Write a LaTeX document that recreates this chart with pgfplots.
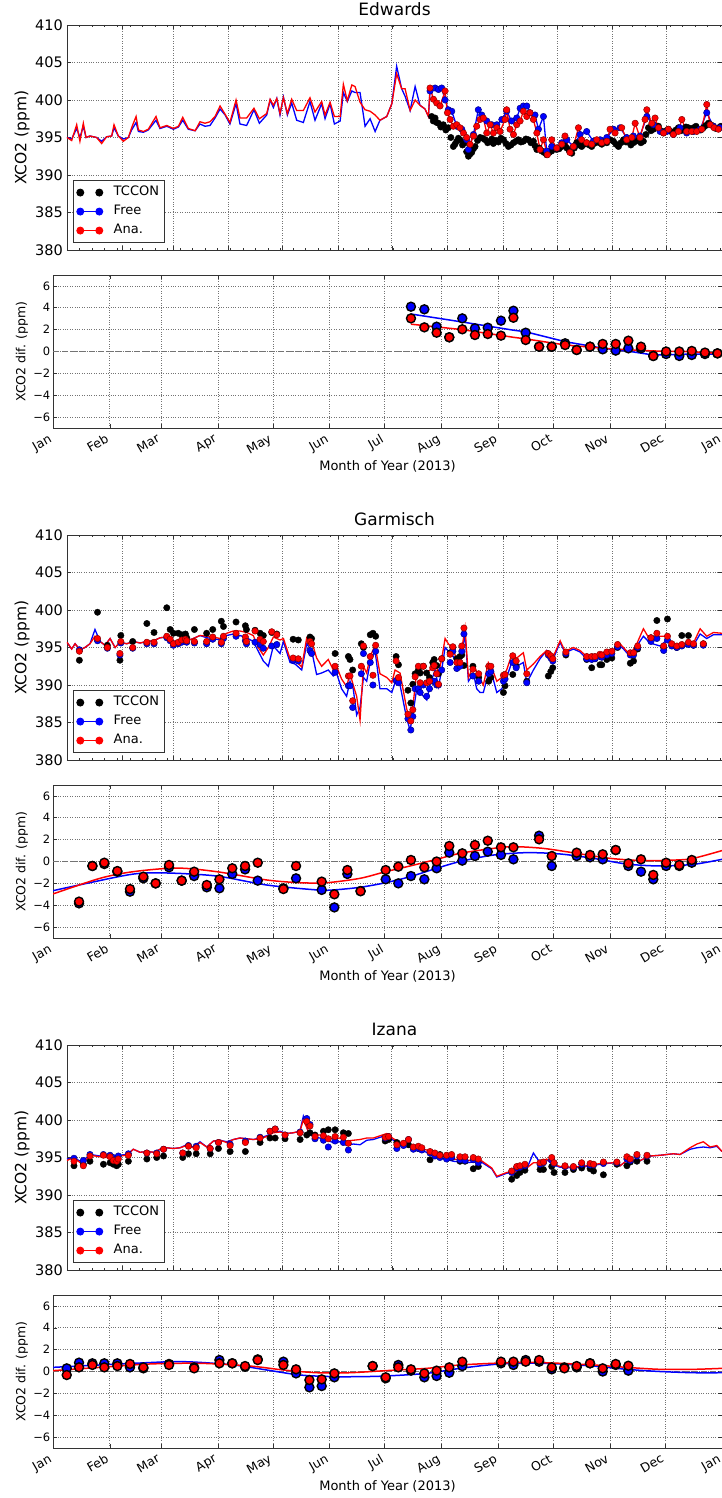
\documentclass[border=0pt]{standalone}
\usepackage{fontspec}
\setmainfont{DejaVu Sans}
\usepackage{pgfplots}
\usepackage{pgfplotstable}
\pgfplotsset{compat=1.18}
\newcommand{\fs}[1]{\fontsize{#1pt}{#1pt}\selectfont}

% ---------------- Edwards ----------------
\pgfplotstableread{
day free ana
0 395.0 395.0
2.6 394.8 394.6
5.4 396.2 396.7
7.2 395.0 394.5
9.1 396.5 396.9
10.6 395.0 395.0
12.8 395.2 395.2
16.5 395.0 395.0
19.3 394.5 394.2
22.1 395.1 395.1
24.9 395.2 395.2
26.2 396.3 396.7
28.6 395.2 395.2
31.4 394.8 394.5
34.2 395.0 395.0
36.0 396.0 396.3
38.5 397.0 397.8
39.8 395.8 396.0
42.6 395.7 395.8
45.3 396.0 396.1
49.6 397.3 397.8
51.8 396.2 396.3
55.6 396.5 396.6
59.3 396.1 396.2
62.1 396.4 396.5
64.5 397.3 397.7
67.6 396.1 396.2
71.4 395.9 395.9
74.1 396.8 397.1
76.9 396.5 396.9
79.7 396.6 397.1
82.5 397.6 397.8
85.3 398.8 399.2
88.1 398.0 398.1
90.8 396.8 397.0
94.2 399.5 400.0
96.4 396.8 397.6
100.1 396.6 397.6
104.2 398.7 398.9
107.2 396.9 397.5
111.3 398.0 398.2
113.2 400.0 400.1
115.0 399.0 399.3
116.9 400.2 400.2
118.7 398.0 398.2
120.6 400.4 400.3
122.8 398.0 398.2
125.2 399.6 400.1
128.0 397.3 398.6
131.7 397.0 398.6
135.4 399.8 400.3
138.2 397.3 398.4
141.9 399.5 399.8
143.8 397.5 398.0
146.6 399.5 399.7
149.0 396.8 397.8
152.2 397.2 397.8
154.0 401.0 402.1
156.2 399.8 399.9
158.7 401.2 402.0
160.5 401.0 401.8
163.3 401.0 399.7
166.1 396.5 398.7
168.9 397.5 398.5
171.7 395.8 398.0
174.4 397.3 397.3
178.2 397.8 397.8
181.0 399.5 399.5
183.7 404.5 403.5
186.5 401.5 401.5
188.4 400.5 401.5
191.2 398.6 398.6
194.0 401.8 400.0
196.7 399.3 399.3
199.5 398.8 398.8
201.4 397.8 397.8
202.3 401.2 401.6
}\Eline

\pgfplotstableread{
day val
203.2 397.8
204.1 397.2
205.1 397.6
206.0 397.0
207.0 396.9
208.3 396.4
209.7 396.7
211.1 396.0
212.5 396.3
213.9 395.0
215.3 393.8
216.2 394.1
217.2 394.5
218.1 394.9
219.0 394.7
220.4 394.0
221.8 394.3
222.7 393.1
223.7 392.5
224.6 392.8
225.5 393.0
226.5 393.5
227.4 393.8
228.8 394.6
230.2 395.0
231.6 394.9
233.0 394.7
234.4 394.3
235.8 394.5
236.7 394.8
237.6 394.2
239.0 394.6
240.4 394.4
241.8 394.9
243.2 394.7
244.6 394.2
246.0 393.8
247.4 394.0
248.8 394.3
250.2 394.5
251.5 394.7
252.9 394.4
254.3 394.5
255.7 394.8
257.1 394.7
258.5 394.3
259.9 394.5
260.8 393.9
261.8 393.4
263.2 393.6
264.5 393.2
265.9 393.0
267.3 392.7
268.7 393.0
270.1 393.2
271.5 393.6
272.9 393.4
274.3 393.5
275.7 393.8
277.1 394.0
278.5 393.6
279.9 393.2
281.3 392.9
282.7 393.6
284.0 394.3
285.4 394.0
286.8 393.8
288.2 394.1
289.6 394.3
291.0 394.0
292.4 393.8
293.8 394.2
295.2 394.5
296.6 394.3
298.0 394.1
299.4 394.4
300.8 394.3
302.6 394.7
304.5 394.5
305.9 394.1
307.3 393.8
308.7 394.3
310.1 394.7
311.5 394.4
312.8 394.5
314.2 394.0
315.6 394.3
317.0 394.5
318.4 394.7
319.8 394.3
321.2 394.5
322.6 395.4
324.0 396.3
325.4 395.9
326.8 396.1
328.2 396.4
329.6 396.5
331.0 395.9
332.4 395.6
333.8 395.9
335.1 396.1
336.5 395.8
337.9 395.6
339.3 396.0
340.7 396.3
342.1 395.9
343.5 396.1
344.9 396.4
346.3 396.3
347.7 396.0
349.1 396.3
350.5 396.5
351.9 396.1
353.2 396.0
354.6 396.3
356.0 396.6
357.4 396.9
358.8 396.7
360.2 396.5
361.6 396.2
363.0 396.3
364.4 396.5
}\Etccon

\pgfplotstableread{
day val
202.3 401.2
205.1 401.6
207.0 401.4
208.8 401.6
210.7 400.0
212.5 398.7
214.4 398.5
217.2 396.5
220.0 396.1
222.7 394.7
223.7 393.4
226.5 395.4
229.2 398.7
231.1 398.0
233.9 397.2
236.7 396.7
239.5 396.7
242.3 397.4
245.0 398.5
247.8 397.2
250.6 397.6
252.5 398.9
254.3 399.2
256.2 399.2
258.0 398.3
260.8 398.0
262.7 396.1
265.5 397.8
267.3 393.2
270.1 393.8
272.9 393.6
275.7 394.3
278.5 394.7
282.2 393.8
285.9 395.4
289.6 395.8
293.3 394.5
297.1 394.7
300.8 395.0
304.5 396.1
308.2 396.3
311.9 395.0
315.6 395.2
319.3 395.2
323.1 397.8
326.8 396.7
330.5 395.8
334.2 395.8
337.9 395.4
341.6 396.3
345.3 395.6
349.1 395.8
352.8 396.1
356.5 398.3
360.2 396.5
363.9 396.3
}\Efree

\pgfplotstableread{
day val
202.3 401.6
204.2 400.1
206.0 399.6
207.9 399.2
210.7 401.2
212.0 398.3
213.5 397.4
215.3 396.5
217.2 396.7
219.0 396.3
220.9 395.6
222.7 395.0
224.6 394.1
226.5 395.2
228.3 396.5
230.2 397.4
232.0 397.6
233.9 395.6
235.8 396.7
237.6 395.6
239.5 396.3
241.3 395.8
244.1 397.4
245.0 398.7
246.9 396.1
248.8 395.4
250.6 396.7
252.5 397.2
254.3 398.5
256.2 397.8
258.0 398.3
259.9 397.4
261.8 395.6
263.6 393.4
265.5 394.7
267.7 392.7
270.1 394.7
272.9 393.6
275.7 394.1
277.5 395.2
280.3 393.0
282.2 393.8
285.0 396.3
286.8 394.7
289.6 394.3
292.4 394.1
295.2 394.7
298.0 394.3
300.8 394.5
302.6 396.1
305.4 395.6
309.1 396.3
311.9 394.7
314.7 395.0
316.6 396.9
319.3 395.0
322.1 397.4
323.1 398.7
325.9 396.9
327.7 397.6
329.6 396.3
332.4 395.6
335.1 396.1
337.9 395.4
340.7 395.8
342.6 397.4
345.3 395.8
348.1 395.8
350.9 395.8
353.7 396.1
356.5 399.4
358.4 396.7
360.6 396.3
363.0 396.1
}\Eana

\pgfplotstableread{
day free ana
195.3 4.10 3.03
202.6 3.86 2.21
209.3 2.27 1.72
216.2 1.30 1.30
223.3 3.03 2.03
230.2 2.12 1.51
237.2 2.18 1.60
244.4 2.82 1.45
251.2 3.73 3.09
257.9 1.72 1.05
265.2 0.44 0.44
272.1 0.44 0.44
279.4 0.75 0.59
285.7 0.14 0.14
293.0 0.44 0.44
299.9 0.20 0.69
307.0 0.08 0.69
313.9 0.29 0.99
320.8 0.29 0.44
327.5 -0.41 -0.41
334.5 -0.23 0.00
341.7 -0.41 0.00
348.5 -0.32 0.05
355.7 -0.23 -0.10
362.5 -0.17 -0.17
}\Ediff

\pgfplotstableread{
day free ana
195.3 3.43 2.50
223.3 2.70 2.00
251.2 1.95 1.30
258.0 1.80 1.15
279.4 0.90 0.60
300.0 0.30 0.30
315.0 0.00 0.15
327.5 -0.32 0.05
345.0 -0.25 0.00
365.0 -0.23 -0.17
}\Efit

% ---------------- Garmisch ----------------
\pgfplotstableread{
day free ana
0 395.7 395.7
2.6 394.8 394.8
4.5 395.5 395.5
7.2 394.7 394.7
10.0 395.0 395.0
12.8 395.5 395.5
15.6 397.4 396.5
18.4 395.8 395.8
21.2 395.3 395.3
24.0 396.2 396.2
26.8 395.0 395.0
29.5 395.7 395.7
33.3 395.5 395.5
37.0 395.8 395.8
40.7 395.6 395.6
44.5 395.8 395.8
48.2 395.9 395.9
51.9 396.3 396.3
55.6 396.4 396.4
59.3 395.8 395.8
63.0 396.0 396.0
66.7 395.9 395.9
70.4 396.2 396.2
74.1 396.6 396.6
77.9 396.3 396.5
81.6 396.2 396.4
85.3 396.0 396.2
89.0 396.6 396.9
92.7 396.8 397.2
96.4 396.6 397.2
100.1 396.3 397.0
103.8 395.8 396.6
106.6 394.5 395.0
109.4 393.2 394.0
112.2 392.5 395.0
115.0 395.2 396.4
118.7 394.2 396.0
120.6 395.8 396.2
124.3 393.0 393.5
127.1 392.8 393.3
130.8 392.0 392.4
133.6 395.5 396.3
136.4 394.5 395.8
139.1 391.4 393.6
141.9 391.6 392.5
145.6 392.0 393.4
148.4 391.2 392.0
150.2 391.6 392.5
153.0 389.5 390.8
155.8 388.5 389.8
157.7 390.5 391.5
159.5 389.5 390.0
161.4 386.0 388.5
163.3 387.0 385.3
165.2 391.0 392.5
167.0 390.5 391.6
168.9 393.0 393.8
171.7 394.5 395.3
174.4 389.5 391.5
178.2 389.5 391.0
181.0 389.0 390.3
182.8 390.3 392.0
185.6 390.0 391.6
189.3 385.5 386.8
191.2 384.0 385.3
193.0 386.5 387.7
194.9 389.5 391.8
196.7 389.0 391.6
200.5 388.0 391.8
202.3 390.0 392.0
205.1 392.0 393.0
207.0 389.8 391.5
208.8 392.0 393.5
210.7 395.0 396.2
212.5 394.5 395.5
214.4 394.2 395.0
217.2 392.8 393.5
219.0 392.5 393.2
221.8 396.8 397.6
223.7 390.5 391.0
226.5 391.5 392.5
228.3 389.5 391.8
230.2 389.0 390.8
232.0 389.0 390.0
234.8 391.5 393.0
236.7 391.5 392.3
239.5 389.0 390.5
242.3 389.5 391.0
245.0 391.0 392.0
247.8 393.0 394.0
250.6 392.5 393.6
254.3 393.0 394.3
256.2 390.3 392.0
259.9 392.0 392.8
263.6 393.5 393.8
267.3 394.6 394.6
271.0 393.5 393.8
274.8 395.7 395.9
277.5 394.3 394.5
282.2 394.8 395.0
285.9 394.4 394.6
289.6 393.5 393.8
293.3 393.5 394.0
297.1 394.0 394.2
300.8 394.3 394.5
304.5 394.4 394.6
307.3 395.4 395.7
310.1 394.8 395.0
313.8 393.8 394.0
317.5 395.2 395.5
321.2 396.5 397.5
324.9 395.6 396.0
330.5 395.2 396.5
334.2 396.0 396.5
337.9 395.0 395.3
341.6 395.0 395.3
345.4 395.2 395.5
349.1 395.3 395.6
352.8 396.8 397.5
356.5 396.2 396.5
360.2 396.7 397.0
365.0 396.7 396.9
}\Gline

\pgfplotstableread{
day tccon free ana
6.9 393.3 394.7 394.5
17.0 399.7 395.9 396.2
22.5 395.3 394.9 395.0
29.5 393.3 394.0 394.2
30.0 396.6 395.6 395.8
36.6 395.8 394.9 395.0
44.5 398.2 395.5 395.7
48.5 397.0 395.5 395.7
55.6 400.3 396.3 396.5
57.5 397.4 395.9 396.1
59.3 396.9 395.3 395.5
62.0 396.9 395.5 395.7
63.9 396.7 395.7 396.0
66.0 396.8 395.9 396.1
66.7 396.3 395.7 395.9
71.0 397.4 395.6 395.8
77.8 396.9 395.5 395.8
81.2 397.4 396.1 396.4
86.0 398.5 395.5 395.7
87.2 397.8 396.2 396.5
94.2 398.4 396.5 396.9
99.4 397.9 395.9 396.4
100.0 397.4 395.5 395.8
104.8 397.3 395.7 397.2
107.6 396.9 395.4 396.1
109.4 396.6 394.9 395.8
114.1 397.0 395.2 397.1
116.9 396.8 395.4 396.7
126.0 396.1 393.3 393.6
128.9 396.0 393.2 393.5
135.4 396.4 394.6 395.8
136.3 396.2 394.2 395.5
149.4 394.2 391.7 392.5
156.8 393.8 389.9 391.2
157.7 393.4 389.9 391.2
159.2 392.0 387.0 387.9
164.0 395.5 391.5 392.5
165.2 395.0 394.2 395.2
169.0 396.7 393.0 393.8
170.5 396.9 390.0 391.3
172.0 396.5 394.5 395.3
183.4 393.8 390.6 393.2
184.7 392.7 390.3 391.0
190.0 389.3 385.5 386.1
191.6 387.6 384.0 385.2
192.7 390.1 385.8 386.7
194.0 391.5 389.5 391.1
195.8 392.0 389.5 392.5
196.8 391.6 389.0 390.3
198.6 392.5 390.0 392.5
200.4 391.6 388.5 390.3
202.0 391.0 389.5 390.5
203.8 393.0 390.5 392.3
204.6 393.4 390.5 392.6
206.0 392.6 390.0 391.5
207.0 391.5 390.0 390.1
208.8 393.5 392.0 393.5
213.5 394.3 393.0 394.1
215.0 395.0 394.5 395.1
217.2 393.5 392.2 393.0
219.0 393.8 392.5 393.0
220.0 394.0 394.5 395.2
221.2 392.6 396.8 397.6
226.2 392.5 391.2 392.1
229.4 391.0 390.5 391.5
235.0 390.5 391.5 392.5
236.2 391.0 391.8 392.5
243.2 389.0 390.5 391.3
244.1 389.9 390.8 391.4
248.4 391.4 393.0 393.9
250.3 392.5 392.3 393.2
256.2 390.5 390.3 391.5
268.2 391.2 394.0 394.2
269.6 391.8 393.6 393.9
270.7 392.3 393.2 393.5
278.0 394.0 394.2 394.4
289.6 393.4 393.5 393.8
292.4 392.3 393.4 393.8
294.2 393.5 393.5 393.8
297.0 392.7 393.8 394.1
298.0 392.7 393.7 394.0
300.8 393.4 394.0 394.4
303.6 393.6 394.2 394.5
306.8 395.0 395.1 395.4
313.9 392.9 394.0 394.3
315.7 393.2 394.0 394.3
318.0 394.8 395.0 395.2
325.4 396.3 395.8 396.3
328.7 398.6 396.2 396.9
332.5 395.0 394.6 395.2
334.6 398.8 396.0 396.5
337.0 395.3 395.2 395.5
339.8 395.0 395.0 395.2
342.6 396.6 395.2 395.4
346.3 396.6 395.4 395.7
349.1 395.3 395.3 395.5
354.6 395.5 395.3 395.5
}\Gobs

\pgfplotstableread{
day free ana
14.2 -3.83 -3.67
21.5 -0.41 -0.41
28.0 -0.23 -0.11
35.1 -0.93 -0.87
42.0 -2.76 -2.52
49.3 -1.54 -1.39
56.0 -2.00 -2.00
63.3 -0.53 -0.32
70.2 -1.75 -1.75
77.0 -1.33 -0.93
83.9 -2.36 -2.15
90.8 -2.45 -1.63
97.8 -1.14 -0.62
104.8 -0.72 -0.41
111.7 -1.75 -0.11
125.7 -2.45 -2.52
132.6 -1.54 -0.41
146.6 -2.60 -1.84
153.5 -4.20 -3.00
160.6 -1.14 -0.78
167.8 -2.70 -2.72
181.5 -1.63 -0.78
188.4 -2.00 -0.47
195.3 -1.33 0.14
202.6 -1.63 -0.53
209.3 -0.62 0.00
216.2 0.81 1.42
223.3 0.08 0.75
230.2 0.50 1.51
237.2 0.90 1.90
244.4 0.60 1.30
251.2 0.20 1.30
265.2 2.36 2.03
272.1 -0.41 0.50
285.7 0.50 0.81
293.0 0.38 0.60
299.9 0.20 0.66
307.0 1.05 1.05
313.9 -0.41 -0.17
320.8 -0.93 0.20
327.5 -1.63 -1.23
334.5 -0.41 -0.11
341.7 -0.41 -0.32
348.5 -0.11 0.14
}\Gdiff

\pgfplotstableread{
day val
0 -2.67
18.4 -2.00
43.8 -1.15
62.0 -1.05
89.3 -1.33
116.6 -2.15
143.9 -2.60
153.0 -2.60
167.5 -2.36
181.5 -1.94
194.8 -1.39
209.3 -0.62
222.1 0.00
240.2 0.59
258.4 0.81
276.6 0.69
294.8 0.29
313.0 -0.23
331.2 -0.41
349.4 -0.26
365.0 0.20
}\Gfitf

\pgfplotstableread{
day val
0 -2.97
25.6 -1.54
43.8 -0.93
67.5 -0.60
89.3 -0.93
116.6 -1.69
134.8 -1.94
149.3 -1.94
167.5 -1.54
181.5 -0.93
194.8 -0.41
209.3 0.20
222.1 0.75
240.2 1.20
251.2 1.36
267.5 1.20
285.7 0.75
303.9 0.29
322.1 0.08
340.3 0.14
349.4 0.29
365.0 1.00
}\Gfita

% ---------------- Izana ----------------
\pgfplotstableread{
day free ana
0 394.8 394.6
3.7 395.0 395.0
7.4 394.5 394.3
11.1 395.0 394.8
12.9 395.4 395.3
18.4 395.2 395.1
22.1 395.1 395.0
25.8 394.9 394.8
29.5 395.3 395.2
33.3 395.4 395.3
37.0 396.1 396.1
40.7 395.7 395.7
44.5 395.8 395.8
48.2 395.7 395.7
51.9 396.1 396.1
55.6 396.3 396.3
59.3 396.2 396.2
63.0 396.3 396.3
66.7 396.7 396.6
70.4 396.4 396.3
74.1 397.1 397.0
77.9 396.4 396.4
81.6 397.2 397.2
85.3 397.3 397.3
89.0 397.1 397.0
92.7 397.4 397.4
96.4 397.6 397.6
100.1 397.5 397.5
103.8 397.4 397.4
107.6 397.6 397.5
111.3 397.9 397.8
115.0 398.4 398.3
118.7 398.5 398.4
122.4 398.2 398.2
126.1 398.3 398.3
129.8 398.5 398.5
131.7 400.5 400.0
134.5 398.4 398.5
137.3 397.7 398.0
141.0 397.6 398.0
144.7 397.3 397.8
148.4 397.0 397.5
152.2 397.1 397.6
155.8 396.6 397.2
159.5 396.8 397.3
163.3 396.7 397.4
167.0 397.3 397.6
170.7 397.4 397.6
178.2 398.0 398.2
181.9 397.3 397.5
187.5 396.6 396.8
193.0 396.2 396.4
200.5 395.7 396.0
207.9 395.0 395.3
215.3 394.5 394.8
222.7 394.3 394.6
230.2 394.5 394.7
236.7 393.5 393.6
239.5 392.4 392.5
245.0 392.9 393.0
252.5 393.2 393.3
256.2 393.5 393.6
259.9 395.6 394.3
263.6 394.3 394.3
267.3 394.7 394.8
271.0 394.0 394.1
274.8 393.7 393.8
282.2 393.6 393.7
289.6 393.8 393.9
297.1 394.1 394.2
304.5 394.3 394.3
308.2 393.9 393.9
312.0 394.6 394.6
319.4 394.6 394.6
324.9 395.2 395.2
330.5 395.3 395.3
337.9 395.5 395.5
341.6 395.4 395.4
347.2 396.1 396.3
351.0 396.3 396.8
354.6 396.4 397.1
358.4 396.3 396.4
362.1 396.5 396.6
365.0 395.8 395.8
}\Iline

\pgfplotstableread{
day tccon free ana
3.9 393.9 394.9 394.5
9.1 394.1 394.6 393.9
12.8 394.5 395.4 395.2
20.3 394.1 395.4 395.3
24.0 394.3 395.3 395.1
25.8 394.1 395.0 394.6
27.7 393.9 394.8 394.5
28.6 394.1 395.2 394.8
34.2 394.5 395.5 395.3
44.5 394.8 395.6 395.6
50.0 395.0 395.6 395.5
53.8 395.2 396.1 396.1
64.5 395.0 395.6 395.6
67.7 395.5 396.6 396.5
72.0 395.5 396.5 396.3
79.8 395.5 396.2 396.2
84.4 396.2 397.0 397.0
90.9 395.8 396.8 396.6
99.4 395.8 397.2 397.0
107.6 397.0 397.7 397.6
113.1 397.6 398.5 398.5
116.0 397.6 398.8 398.8
121.5 397.5 398.0 398.0
129.9 397.4 398.4 398.3
133.6 398.0 400.2 399.8
135.4 398.3 399.4 399.2
138.2 398.0 397.5 397.8
142.9 398.5 397.3 397.9
145.6 398.7 396.4 397.5
149.4 398.7 397.2 397.8
154.0 398.3 397.0 397.7
156.8 398.2 396.0 396.9
177.3 397.2 397.6 397.7
179.2 397.4 397.8 397.8
183.8 397.0 396.2 396.7
187.5 396.7 396.6 396.9
190.3 396.7 397.4 397.4
193.0 396.3 396.1 396.4
195.8 396.2 396.2 396.5
197.7 396.1 396.0 396.3
202.3 394.7 395.6 395.8
205.0 395.3 395.2 395.6
207.8 395.4 395.0 395.3
211.5 395.2 394.8 395.3
214.3 395.0 395.0 395.4
219.0 394.5 394.7 395.1
221.8 394.5 394.6 395.1
226.4 393.5 394.7 395.0
229.2 393.8 394.3 394.8
247.8 392.1 393.0 393.2
250.6 392.6 393.6 393.8
252.4 393.0 393.7 393.9
255.2 393.3 393.9 394.1
263.6 393.4 394.1 394.3
265.5 393.4 394.3 394.4
270.1 393.8 394.7 395.0
271.4 393.0 394.2 394.3
277.5 393.0 393.8 393.9
282.2 393.4 393.7 393.8
286.8 393.6 394.1 394.3
291.5 393.5 394.0 394.2
293.4 393.2 394.0 394.1
298.9 392.7 394.2 394.4
306.4 394.1 394.3 394.4
312.0 393.9 394.8 395.1
313.9 394.4 394.6 394.8
317.6 394.5 395.2 395.4
323.2 394.5 395.2 395.3
}\Iobs

\pgfplotstableread{
day free ana
7.5 0.29 -0.32
14.2 0.81 0.38
21.5 0.75 0.60
28.0 0.75 0.38
35.1 0.75 0.50
42.0 0.38 0.69
49.3 0.29 0.38
63.3 0.69 0.60
77.0 0.38 0.29
90.8 1.05 0.75
97.8 0.75 0.75
104.8 0.44 0.50
111.7 1.11 1.05
125.7 0.90 0.60
132.6 -0.17 0.20
139.9 -1.45 -0.78
146.6 -1.33 -0.72
153.5 -0.53 -0.17
174.4 0.50 0.50
181.5 -0.62 -0.53
188.4 0.60 0.38
195.3 0.08 0.20
202.6 -0.53 -0.17
209.3 -0.41 0.08
216.2 -0.11 0.38
223.3 0.50 0.90
244.4 0.75 0.90
251.2 0.60 0.90
257.9 1.05 0.90
265.2 0.90 1.05
272.1 0.20 0.38
279.0 0.38 0.29
285.7 0.38 0.50
293.0 0.75 0.75
299.9 0.00 0.29
307.0 0.60 0.69
313.9 0.08 0.53
}\Idiff

\pgfplotstableread{
day val
0 0.38
43.8 0.75
71.1 0.90
98.4 0.60
116.6 0.14
134.8 -0.32
153.0 -0.47
167.5 -0.47
181.5 -0.41
203.9 -0.17
222.1 0.29
243.9 0.69
267.5 0.75
294.8 0.50
313.0 0.20
331.2 0.00
349.4 -0.11
365.0 -0.11
}\Ifitf

\pgfplotstableread{
day val
0 0.08
25.6 0.38
52.9 0.69
80.2 0.75
107.5 0.50
125.7 0.14
143.9 -0.11
162.1 -0.11
181.5 0.08
203.9 0.29
222.1 0.60
249.4 0.81
267.5 0.81
294.8 0.60
313.0 0.38
331.2 0.20
349.4 0.20
365.0 0.29
}\Ifita

\pgfplotsset{
  common/.style={scale only axis, xmin=0, xmax=365,
    axis line style={black!80, line width=0.9pt},
    grid=major, major grid style={dotted, black!55, line width=0.7pt},
    tick align=inside, major tick length=4pt,
    tick style={black!80, line width=0.6pt},
    xtick={0,31,59,90,120,151,181,212,243,273,304,334,365}},
  mainax/.style={common, width=655pt, height=225pt, ymin=380, ymax=410,
    ytick={380,385,390,395,400,405,410},
    yticklabels={380,385,390,395,400,405,410},
    xticklabels={\empty},
    minor xtick={7,14,...,364}, minor tick length=2pt,
    yticklabel style={font=\fs{14.5}, inner xsep=4pt},
    ylabel={XCO2 (ppm)},
    ylabel style={font=\fs{15.5}, at={(axis description cs:-0.0687,0.5)}, anchor=center},
    title style={font=\fs{17}, at={(0.5,1)}, anchor=base, yshift=3.5pt},
    legend cell align=left,
    legend style={at={(0.009,0.031)}, anchor=south west, font=\fs{13},
      draw=black!80, line width=0.9pt, inner xsep=3pt, inner ysep=5.75pt,
      row sep=6.5pt, column sep=8.5pt,
      nodes={inner xsep=2pt, inner ysep=0pt, text height=9.5pt, text depth=3pt}}},
  diffax/.style={common, width=669pt, height=153pt, ymin=-7, ymax=7,
    ytick={-6,-4,-2,0,2,4,6},
    yticklabels={−6,−4,−2,0,2,4,6},
    xticklabels={Jan,Feb,Mar,Apr,May,Jun,Jul,Aug,Sep,Oct,Nov,Dec,Jan},
    xticklabel style={font=\fs{12.5}, rotate=30, anchor=north east, inner sep=2pt, xshift=-5pt},
    yticklabel style={font=\fs{11.5}, inner xsep=2.5pt},
    ylabel={XCO2 dif. (ppm)},
    ylabel style={font=\fs{12.5}, at={(axis description cs:-0.0463,0.5)}, anchor=center},
    xlabel={Month of Year (2013)},
    xlabel style={font=\fs{13}, at={(axis description cs:0.5,-0.25)}, anchor=center}},
  tccon/.style={only marks, mark=*, mark size=3.2pt, mark options={fill=black, draw=black, line width=0.4pt}},
  freem/.style={only marks, mark=*, mark size=3.2pt, mark options={fill=blue, draw=blue!55!black, line width=0.5pt}},
  anam/.style={only marks, mark=*, mark size=3.2pt, mark options={fill=red, draw=red!55!black, line width=0.5pt}},
  freel/.style={no marks, blue, line width=1.3pt},
  anal/.style={no marks, red, line width=1.3pt},
  dfree/.style={only marks, mark=*, mark size=4.5pt, mark options={fill=blue, draw=black, line width=1.4pt}},
  dana/.style={only marks, mark=*, mark size=4.5pt, mark options={fill=red, draw=black, line width=1.4pt}},
  dfitf/.style={no marks, blue, line width=1.5pt},
  dfita/.style={no marks, red, line width=1.5pt},
  zeroline/.style={no marks, black!55, line width=1pt, dash pattern=on 6pt off 3pt},
}

\newcommand{\mainlegend}{%
  \addlegendimage{legend image code/.code={\fill[black] (0pt,0pt) circle (3.5pt) (19pt,0pt) circle (3.5pt);}}
  \addlegendentry{TCCON}
  \addlegendimage{legend image code/.code={\draw[blue, line width=1.2pt] (0pt,0pt) -- (19pt,0pt); \fill[blue] (0pt,0pt) circle (3.5pt) (19pt,0pt) circle (3.5pt);}}
  \addlegendentry{Free}
  \addlegendimage{legend image code/.code={\draw[red, line width=1.2pt] (0pt,0pt) -- (19pt,0pt); \fill[red] (0pt,0pt) circle (3.5pt) (19pt,0pt) circle (3.5pt);}}
  \addlegendentry{Ana.}
}

\begin{document}
\begin{tikzpicture}
\useasboundingbox (0pt,0pt) rectangle (722pt,-1498pt);

% ===== Edwards main =====
\begin{axis}[mainax, at={(67pt,-25pt)}, anchor=north west, title={Edwards}]
\mainlegend
\addplot[tccon, forget plot] table[x=day, y=val] {\Etccon};
\addplot[freel, forget plot] table[x=day, y=free] {\Eline};
\addplot[blue, line width=1.3pt, mark=*, mark size=3.2pt, mark options={fill=blue, draw=blue!55!black, line width=0.5pt}, forget plot] table[x=day, y=val] {\Efree};
\addplot[anal, forget plot] table[x=day, y=ana] {\Eline};
\addplot[red, line width=1.3pt, mark=*, mark size=3.2pt, mark options={fill=red, draw=red!55!black, line width=0.5pt}, forget plot] table[x=day, y=val] {\Eana};
\end{axis}

% ===== Edwards diff =====
\begin{axis}[diffax, at={(53pt,-275pt)}, anchor=north west]
\addplot[zeroline] coordinates {(0,0) (365,0)};
\addplot[dfree] table[x=day, y=free] {\Ediff};
\addplot[dana] table[x=day, y=ana] {\Ediff};
\addplot[dfitf] table[x=day, y=free] {\Efit};
\addplot[dfita] table[x=day, y=ana] {\Efit};
\end{axis}

% ===== Garmisch main =====
\begin{axis}[mainax, at={(67pt,-535pt)}, anchor=north west, title={Garmisch}]
\mainlegend
\addplot[tccon, forget plot] table[x=day, y=tccon] {\Gobs};
\addplot[freel, forget plot] table[x=day, y=free] {\Gline};
\addplot[freem, forget plot] table[x=day, y=free] {\Gobs};
\addplot[anal, forget plot] table[x=day, y=ana] {\Gline};
\addplot[anam, forget plot] table[x=day, y=ana] {\Gobs};
\end{axis}

% ===== Garmisch diff =====
\begin{axis}[diffax, at={(53pt,-785pt)}, anchor=north west]
\addplot[zeroline] coordinates {(0,0) (365,0)};
\addplot[dfree] table[x=day, y=free] {\Gdiff};
\addplot[dana] table[x=day, y=ana] {\Gdiff};
\addplot[dfitf, smooth] table[x=day, y=val] {\Gfitf};
\addplot[dfita, smooth] table[x=day, y=val] {\Gfita};
\end{axis}

% ===== Izana main =====
\begin{axis}[mainax, at={(67pt,-1045pt)}, anchor=north west, title={Izana}]
\mainlegend
\addplot[tccon, forget plot] table[x=day, y=tccon] {\Iobs};
\addplot[freel, forget plot] table[x=day, y=free] {\Iline};
\addplot[freem, forget plot] table[x=day, y=free] {\Iobs};
\addplot[anal, forget plot] table[x=day, y=ana] {\Iline};
\addplot[anam, forget plot] table[x=day, y=ana] {\Iobs};
\end{axis}

% ===== Izana diff =====
\begin{axis}[diffax, at={(53pt,-1295pt)}, anchor=north west]
\addplot[zeroline] coordinates {(0,0) (365,0)};
\addplot[dfree] table[x=day, y=free] {\Idiff};
\addplot[dana] table[x=day, y=ana] {\Idiff};
\addplot[dfitf, smooth] table[x=day, y=val] {\Ifitf};
\addplot[dfita, smooth] table[x=day, y=val] {\Ifita};
\end{axis}
\end{tikzpicture}
\end{document}
